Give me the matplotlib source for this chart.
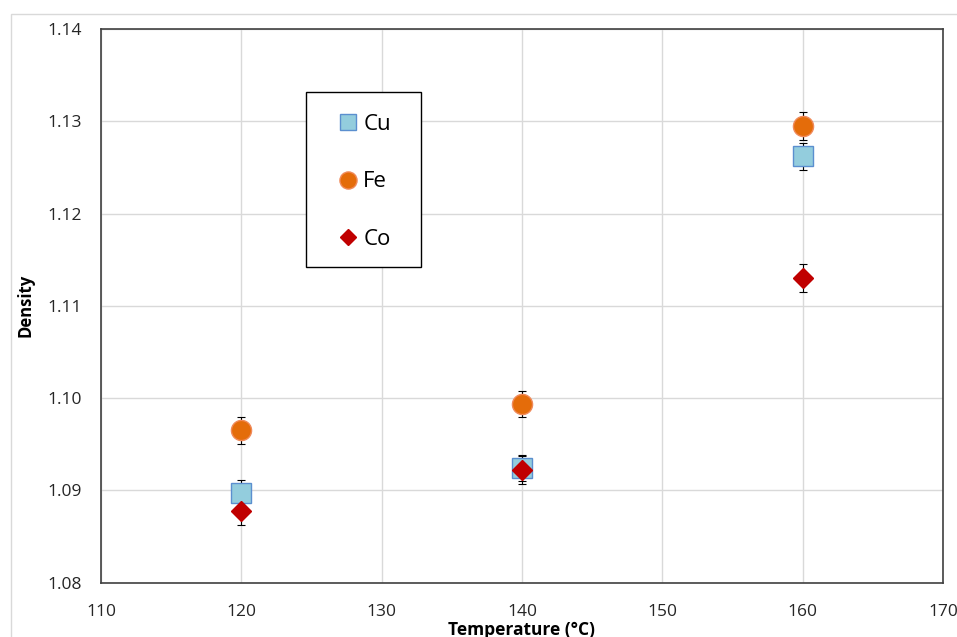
import matplotlib
matplotlib.use("Agg")
from matplotlib import pyplot as plt
from matplotlib.patches import Rectangle

plt.rcParams['font.family'] = ['Open Sans', 'DejaVu Sans']

temperature = [120, 140, 160]
cu_density = [1.0897, 1.0924, 1.1262]
cu_err = [0.0014, 0.0014, 0.0015]
fe_density = [1.0965, 1.0994, 1.1295]
fe_err = [0.0015, 0.0014, 0.0015]
co_density = [1.0878, 1.0922, 1.1130]
co_err = [0.0015, 0.0015, 0.0015]

x_ticks = [110, 120, 130, 140, 150, 160, 170]
y_ticks = [1.08, 1.09, 1.10, 1.11, 1.12, 1.13, 1.14]

W, H = 957, 637
fig = plt.figure(figsize=(W / 100, H / 100), dpi=100)
# light outer border of the chart area
fig.patches.append(Rectangle((11 / W, -0.1), 1.2, (H - 14) / H + 0.1,
                             transform=fig.transFigure, fill=False,
                             edgecolor='#d9d9d9', linewidth=1))
ax = fig.add_axes([0.1055, 0.0852, 0.8798, 0.8693])

series = [
    ('Cu', cu_density, cu_err, 's', '#93cddd', '#5b8fcf', 14),
    ('Fe', fe_density, fe_err, 'o', '#e46c0a', '#f08a5a', 14.5),
    ('Co', co_density, co_err, 'D', '#c00000', '#c00000', 10),
]

for name, values, errs, marker, face, edge, size in series:
    ax.errorbar(temperature, values, yerr=errs, fmt='none', ecolor='black',
                elinewidth=0.8, capsize=3, capthick=0.8, zorder=2)
for name, values, errs, marker, face, edge, size in series:
    ax.plot(temperature, values, linestyle='none', marker=marker, markersize=size,
            markerfacecolor=face, markeredgecolor=edge, markeredgewidth=1,
            label=name, zorder=3)

ax.set_xlim(110, 170)
ax.set_ylim(1.08, 1.14)
ax.set_xticks(x_ticks)
ax.set_yticks(y_ticks)
ax.set_yticklabels([f'{v:.2f}' for v in y_ticks])
ax.tick_params(axis='both', length=0, labelsize=12.5, colors='#262626')
ax.tick_params(axis='x', pad=15)
ax.tick_params(axis='y', pad=14)
ax.grid(True, color='#d9d9d9', linewidth=1)
ax.set_axisbelow(True)
for spine in ax.spines.values():
    spine.set_color('#404040')
    spine.set_linewidth(1.2)

ax.set_xlabel('Temperature (°C)', fontsize=12.5, fontweight='bold', labelpad=1)
ax.set_ylabel('Density', fontsize=12, fontweight='bold', labelpad=9)

# legend box drawn as its own rectangle, entries placed inside it
ax.add_patch(Rectangle((306 / W, 1 - 267 / H), 115 / W, 175 / H,
                       transform=fig.transFigure, fill=True, facecolor='white',
                       edgecolor='black', linewidth=1, zorder=4, clip_on=False))
leg = ax.legend(loc='upper left', bbox_to_anchor=(337 / W, 1 - 114 / H),
                bbox_transform=fig.transFigure, fontsize=16, frameon=False,
                labelspacing=1.64, handletextpad=0.18, borderpad=0,
                handlelength=1.0, borderaxespad=0, markerscale=0.85)
leg.set_zorder(5)

fig.savefig('out.png', dpi=100)
